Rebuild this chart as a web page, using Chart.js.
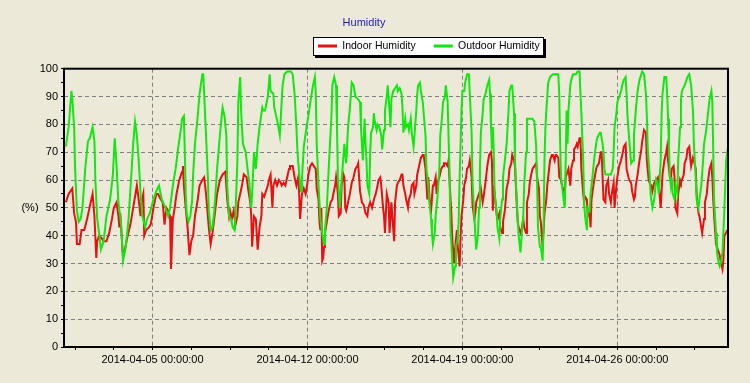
<!DOCTYPE html>
<html>
<head>
<meta charset="utf-8">
<script src="https://cdn.jsdelivr.net/npm/chart.js@4.4.1/dist/chart.umd.min.js"></script>
<style>
  html, body { margin: 0; padding: 0; background: #ece9d8; }
  #wrap { width: 750px; height: 383px; }
</style>
</head>
<body>
<div id="wrap"><canvas id="myChart" width="750" height="383"></canvas></div>
<script>
// hours since 2014-04-01 00:00
const indoorHours = [2,5,9,11,13,14,17,19,22,25,27,31,33,35,36,38,41,43,46,49,52,54,57,59,60,61,64,66,69,72,75,77,79,81,83,84,86,87,89,92,94,97,100,102,105,107,109,111,113,115,116,118,120,122,125,128,129,130,132,134,136,138,140,142,145,147,150,152,154,156,157,159,161,164,166,169,172,175,177,179,180,182,184,186,188,189,191,193,195,198,200,202,203,204,206,208,210,212,214,215,217,219,221,223,224,226,227,229,231,233,235,236,238,240,242,244,245,248,250,252,254,255,256,258,260,262,264,265,267,269,271,273,274,276,277,278,279,280,281,282,283,285,287,289,291,292,294,295,297,298,300,301,303,304,305,306,308,310,312,314,316,318,319,320,321,323,325,327,329,330,332,334,336,338,340,341,343,344,346,347,348,349,350,352,353,355,356,358,359,361,362,364,366,367,368,370,371,373,374,376,377,379,380,382,383,385,387,389,390,392,394,395,397,398,400,401,403,404,405,407,409,411,412,414,416,417,418,420,421,423,424,426,427,429,430,431,433,434,436,437,439,440,442,443,445,446,447,450,452,454,455,457,459,461,463,464,465,466,467,469,470,472,473,475,476,478,479,480,482,483,485,486,488,489,491,492,493,495,496,498,499,501,502,504,505,506,508,510,512,513,515,516,517,519,520,521,523,524,526,527,529,530,532,533,534,536,537,539,540,541,543,544,546,547,549,550,552,553,555,556,557,559,560,561,563,564,565,567,568,570,571,572,574,575,577,578,580,582,583,584,585,587,588,590,591,593,594,596,597,599,600,602,604,606,607,609,610,612,613,615,616,618,619,620,622,624,626,627,629,631,632,634,635,637,638,640,642,644,645,647,649,651,653,654,655,657,658,659,661,662,663,665,666,668,669,670,672,673,675,676,678,679,680,682,683,685,686,688,689,691,692,694,695,697,698,700,702,703,704,705,707,708,710,711,712,714,715,716,718,719];
const indoorValues = [52,55,57,48,45,37,37,42,42,46,49,55,47,32,38,40,39,38,38,41,46,50,52,47,43,48,32,35,40,44,50,54,58,53,47,52,55,40,42,43,44,50,55,55,53,52,44,50,49,47,28,46,50,55,60,63,65,58,50,43,33,38,40,47,53,58,60,61,55,47,43,37,41,49,55,60,62,63,53,47,49,46,49,44,47,52,55,58,62,61,56,52,47,36,47,46,35,43,47,55,54,56,58,61,62,50,58,60,58,60,59,58,59,58,61,64,65,65,61,58,61,55,46,55,57,55,59,62,65,66,65,64,57,53,45,42,50,31,32,36,41,45,49,52,53,55,58,61,55,47,48,58,62,61,50,49,52,55,59,61,64,65,66,61,56,52,51,48,47,50,52,50,53,55,58,60,61,58,50,47,41,48,55,52,41,52,47,38,52,58,59,60,62,62,58,55,53,50,53,55,58,59,55,58,62,65,68,69,69,64,53,61,50,49,58,58,61,55,59,61,64,65,66,66,65,67,60,48,39,30,35,42,36,29,39,47,53,58,61,64,65,67,61,51,46,48,52,55,57,52,54,59,65,69,70,67,49,58,55,48,46,48,43,41,45,49,53,57,60,64,66,69,67,65,51,45,43,41,42,46,43,41,52,55,59,61,64,65,66,61,57,47,45,36,42,48,53,58,64,67,69,69,67,69,69,68,61,60,58,58,55,61,63,64,58,64,67,71,72,73,72,75,75,64,55,52,54,53,47,48,43,53,58,60,64,65,66,70,70,61,53,52,58,60,55,52,55,59,50,58,61,65,67,70,72,73,64,61,60,59,56,53,54,58,62,67,71,74,78,77,67,60,59,58,56,59,60,61,58,50,62,67,70,72,67,61,60,64,65,61,50,48,55,60,59,60,62,66,68,71,72,68,65,68,67,64,55,48,47,43,41,46,52,55,59,64,66,61,53,47,37,36,34,33,31,28,31,40,41,42];
const outdoorHours = [2,5,8,9,11,12,14,16,18,20,23,26,28,31,33,34,36,38,40,43,46,50,53,55,57,59,62,64,67,70,73,75,77,79,81,83,85,88,90,93,97,100,103,106,110,113,115,118,121,124,127,128,130,131,132,133,135,137,139,140,142,145,147,150,151,152,154,156,157,159,161,163,166,169,171,172,174,176,177,179,181,183,185,186,188,189,191,192,194,195,197,199,201,203,204,206,208,210,212,215,216,218,221,223,224,227,228,230,232,234,235,237,239,242,246,248,250,252,253,255,257,258,260,263,265,268,270,272,273,274,276,278,280,282,283,285,287,290,291,293,295,296,297,299,300,302,304,306,308,310,312,314,316,319,321,322,324,326,327,328,329,331,332,333,335,336,337,339,340,342,344,345,347,348,350,351,353,354,355,357,359,361,362,364,366,367,368,370,371,373,374,376,377,379,380,382,383,384,386,387,389,390,392,393,395,396,398,399,400,402,403,405,407,408,410,411,413,414,416,417,418,419,421,422,424,425,427,428,429,431,432,434,435,437,439,440,442,443,445,446,447,449,450,451,452,454,455,457,459,461,462,463,464,465,466,467,469,470,472,473,475,476,478,479,480,482,483,485,486,488,489,491,492,493,495,496,498,499,501,502,504,505,508,510,512,513,514,516,517,519,520,521,522,523,525,527,530,532,534,536,537,538,539,541,542,543,544,545,546,547,549,550,552,555,557,559,560,561,563,564,565,567,568,570,571,573,575,577,578,581,582,584,585,586,587,589,591,593,595,596,597,599,600,602,604,606,607,609,610,611,613,614,615,617,618,620,622,624,626,627,629,631,632,633,635,636,638,640,642,644,645,647,648,649,651,653,654,655,656,657,658,659,660,662,663,665,666,668,669,670,673,674,676,678,680,682,683,685,686,688,689,691,693,694,696,698,700,702,703,704,705,707,708,710,711,712,714,716,718,720];
const outdoorValues = [72,79,92,89,79,64,49,45,46,50,64,74,75,79,74,60,46,41,35,38,47,53,62,75,65,52,44,31,36,46,62,73,81,76,67,55,47,43,46,48,53,56,58,53,50,47,50,58,64,72,79,82,83,70,55,48,45,47,53,62,73,83,91,98,98,91,76,61,49,42,43,49,64,76,83,86,83,76,58,47,46,43,42,48,67,88,97,85,73,72,70,64,59,50,55,70,64,73,79,86,85,85,90,98,92,91,86,83,80,76,82,94,98,99,99,98,91,79,71,62,56,60,72,79,83,90,94,97,91,73,58,46,41,37,42,50,64,83,94,97,94,79,61,50,55,64,73,66,79,86,95,94,90,89,88,79,67,82,73,67,58,55,70,77,79,84,81,78,80,79,76,71,78,85,90,94,85,79,89,92,93,94,92,93,91,86,77,82,79,80,78,82,77,72,76,85,91,94,95,92,88,84,76,64,58,53,46,41,37,41,47,54,64,76,83,88,90,94,88,75,64,43,31,25,29,36,39,46,61,85,92,92,95,98,98,91,77,59,47,40,35,41,50,64,77,84,89,91,94,96,91,79,71,79,69,55,49,43,39,46,53,61,67,70,73,85,92,94,94,84,67,52,45,40,34,39,47,58,70,82,82,82,82,81,72,58,43,36,36,31,43,67,79,85,95,97,98,98,98,98,91,73,61,55,52,50,67,85,73,85,94,96,98,98,99,99,91,84,67,52,47,42,50,49,55,61,68,73,75,77,77,73,70,64,62,62,62,62,64,70,79,84,88,90,92,95,96,97,91,83,74,70,66,67,76,85,92,96,98,99,98,91,83,71,62,55,50,53,60,58,55,67,84,91,97,97,91,82,72,61,58,61,55,53,58,55,67,79,89,92,94,95,97,98,94,85,73,61,53,50,53,58,67,73,77,83,89,92,88,70,52,41,34,30,29,30,34,49,67,72];

const xTickHours = [96, 264, 432, 600];
const xTickLabels = ["2014-04-05 00:00:00", "2014-04-12 00:00:00", "2014-04-19 00:00:00", "2014-04-26 00:00:00"];
const yTickValues = [0, 10, 20, 30, 40, 50, 60, 70, 80, 90, 100];

const toPoints = (hours, values) => hours.map((h, i) => ({ x: h, y: values[i] }));

Chart.defaults.font.family = '"Liberation Sans", Arial, sans-serif';
Chart.defaults.font.size = 11;
Chart.defaults.color = '#000';

const chartDecor = {
  id: 'chartDecor',
  afterLayout(chart) {
    // move the legend to where the original has it
    const lg = chart.legend;
    const p = lg.options.labels.padding;
    const w = lg.right - lg.left;
    const h = lg.bottom - lg.top;
    const left = 318 - (p + w - lg.lineWidths[0]) / 2;
    lg.left = left;
    lg.right = left + w;
    lg.top = 46 - p - 5.25;
    lg.bottom = lg.top + h;
  },
  beforeDraw(chart) {
    const ctx = chart.ctx;
    ctx.save();
    ctx.fillStyle = '#ece9d8';
    ctx.fillRect(0, 0, chart.width, chart.height);
    const boxes = chart.legend.legendHitBoxes;
    if (boxes && boxes.length) {
      const first = boxes[0];
      const last = boxes[boxes.length - 1];
      const left = Math.round(first.left - 5);
      const right = Math.round(last.left + last.width + 4);
      const top = Math.round(first.top + first.height / 2 - 9);
      const h = 19;
      ctx.fillStyle = '#000';
      ctx.fillRect(left + 2, top + 2, right - left, h);
      ctx.fillStyle = '#fff';
      ctx.fillRect(left, top, right - left, h);
      ctx.strokeStyle = '#000';
      ctx.lineWidth = 1;
      ctx.strokeRect(left + 0.5, top + 0.5, right - left - 1, h - 1);
    }
    ctx.restore();
  },
  afterDraw(chart) {
    const { ctx, chartArea: a } = chart;
    ctx.save();
    ctx.strokeStyle = '#000';
    ctx.lineWidth = 2;
    ctx.strokeRect(a.left, a.top, a.right - a.left, a.bottom - a.top);
    ctx.fillStyle = '#000';
    ctx.font = '11px "Liberation Sans", Arial, sans-serif';
    ctx.textAlign = 'center';
    ctx.textBaseline = 'middle';
    ctx.fillText('(%)', 30, (a.top + a.bottom) / 2);
    ctx.restore();
  }
};

const ctx = document.getElementById('myChart').getContext('2d');
const myChart = new Chart(ctx, {
  type: 'line',
  data: {
    datasets: [
      {
        label: 'Indoor Humidity',
        data: toPoints(indoorHours, indoorValues),
        borderColor: '#e81010',
        backgroundColor: '#e81010',
        borderWidth: 2,
        pointRadius: 0,
        order: 1
      },
      {
        label: 'Outdoor Humidity',
        data: toPoints(outdoorHours, outdoorValues),
        borderColor: '#10e810',
        backgroundColor: '#10e810',
        borderWidth: 2,
        pointRadius: 0,
        order: 0
      }
    ]
  },
  options: {
    responsive: false,
    animation: false,
    layout: { padding: { left: 0, right: 22, top: 0, bottom: 0 } },
    plugins: {
      title: {
        display: true,
        text: 'Humidity',
        color: '#1c1cb0',
        font: { size: 11, weight: 'normal' },
        padding: { top: 16, bottom: 1 }
      },
      legend: {
        display: true,
        labels: {
          boxWidth: 19,
          boxHeight: 3,
          padding: 18,
          color: '#000',
          font: { size: 10.5 },
          sort: (a, b) => a.datasetIndex - b.datasetIndex,
          generateLabels: (chart) =>
            Chart.defaults.plugins.legend.labels.generateLabels(chart).map((l) => ({ ...l, lineWidth: 0 }))
        }
      },
      tooltip: { enabled: false }
    },
    scales: {
      x: {
        type: 'linear',
        min: 0,
        max: 720,
        afterFit: (scale) => { scale.height = 36; },
        afterBuildTicks: (scale) => {
          const ticks = [];
          for (let h = 12; h < 720; h += 42) ticks.push({ value: h });
          scale.ticks = ticks;
        },
        ticks: {
          autoSkip: false,
          maxRotation: 0,
          padding: 3,
          callback: (value) => {
            const i = xTickHours.indexOf(value);
            return i >= 0 ? xTickLabels[i] : '';
          }
        },
        grid: {
          color: (c) => (c.tick && xTickHours.includes(c.tick.value) ? '#808080' : 'rgba(0,0,0,0)'),
          tickColor: '#000',
          tickLength: 3,
          drawTicks: true
        },
        border: { display: false, dash: [4, 3] }
      },
      y: {
        min: 0,
        max: 100,
        afterFit: (scale) => { scale.width = 64; },
        ticks: {
          stepSize: 5,
          autoSkip: false,
          padding: 3,
          callback: (value) => (yTickValues.includes(value) ? String(value) : '')
        },
        grid: {
          color: (c) => (c.tick && c.tick.value % 10 === 0 && c.tick.value > 0 && c.tick.value < 100 ? '#808080' : 'rgba(0,0,0,0)'),
          tickColor: '#000',
          tickLength: 3,
          drawTicks: true
        },
        border: { display: false, dash: [4, 3] }
      }
    }
  },
  plugins: [chartDecor]
});
</script>
</body>
</html>
